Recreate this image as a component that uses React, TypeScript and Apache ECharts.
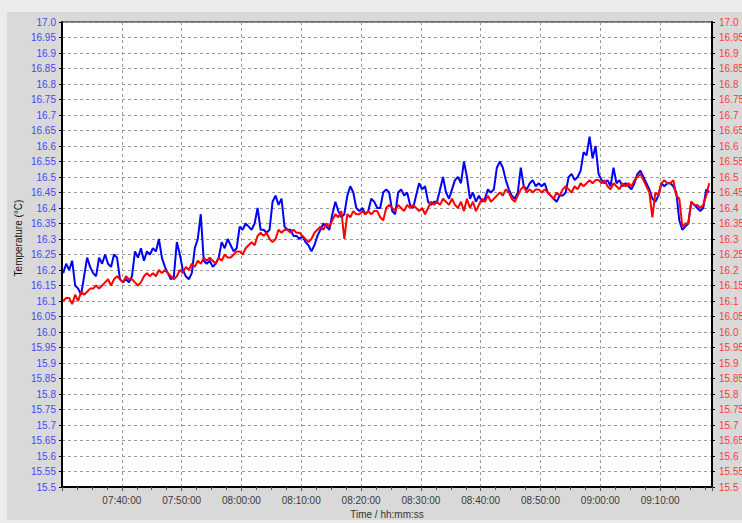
import React, { useEffect, useRef } from "react";
import * as echarts from "echarts";

// Sampling: one reading every 30 s starting at 07:30:12
const startTime = "07:30:12";
const sampleStepSeconds = 30;

// Blue sensor (left axis colour)
const blueValues = [
  16.19, 16.22, 16.2, 16.23, 16.15, 16.14, 16.12, 16.18, 16.24, 16.21,
  16.19, 16.18, 16.24, 16.22, 16.25, 16.22, 16.21, 16.25, 16.24, 16.17,
  16.16, 16.17, 16.16, 16.18, 16.26, 16.24, 16.27, 16.23, 16.26, 16.25,
  16.27, 16.26, 16.3, 16.24, 16.21, 16.19, 16.17, 16.18, 16.29, 16.25,
  16.2, 16.18, 16.17, 16.19, 16.27, 16.3, 16.38, 16.23, 16.22, 16.23,
  16.21, 16.22, 16.24, 16.29, 16.27, 16.3, 16.28, 16.26, 16.27, 16.34,
  16.33, 16.35, 16.34, 16.33, 16.35, 16.4, 16.33, 16.33, 16.32, 16.33,
  16.42, 16.44, 16.41, 16.43, 16.34, 16.33, 16.33, 16.31, 16.31, 16.3,
  16.31, 16.29, 16.28, 16.26, 16.28, 16.31, 16.33, 16.35, 16.34, 16.33,
  16.38, 16.42, 16.39, 16.37, 16.38, 16.44, 16.47, 16.45, 16.4, 16.39,
  16.4, 16.38, 16.39, 16.43, 16.42, 16.4, 16.4, 16.45, 16.46, 16.45,
  16.39, 16.38, 16.45, 16.46, 16.44, 16.45, 16.41, 16.4, 16.44, 16.48,
  16.46, 16.47, 16.42, 16.41, 16.42, 16.42, 16.46, 16.5, 16.45, 16.43,
  16.46, 16.49, 16.5, 16.48, 16.55, 16.5, 16.43, 16.45, 16.42, 16.44,
  16.42, 16.43, 16.46, 16.45, 16.46, 16.53, 16.55, 16.53, 16.49, 16.46,
  16.44, 16.43, 16.45, 16.53, 16.47, 16.46, 16.48, 16.49, 16.47, 16.48,
  16.47, 16.48, 16.45, 16.44, 16.43, 16.42, 16.44, 16.44, 16.45, 16.5,
  16.51, 16.49, 16.5, 16.52, 16.58, 16.57, 16.63, 16.56, 16.6, 16.51,
  16.49, 16.48, 16.49, 16.47, 16.53, 16.48, 16.49, 16.47, 16.48, 16.47,
  16.46, 16.48, 16.51, 16.52, 16.5, 16.48, 16.46, 16.43, 16.42, 16.44,
  16.48, 16.47, 16.48, 16.48, 16.47, 16.45, 16.36, 16.33, 16.34, 16.35,
  16.42, 16.41, 16.4, 16.39, 16.4, 16.46, 16.45,
];

// Red sensor (right axis colour)
const redValues = [
  16.1, 16.11, 16.11, 16.09, 16.12, 16.1, 16.13, 16.12, 16.13, 16.14,
  16.14, 16.15, 16.14, 16.15, 16.16, 16.17, 16.15, 16.17, 16.18, 16.17,
  16.16, 16.18, 16.17, 16.17, 16.16, 16.15, 16.16, 16.18, 16.19, 16.18,
  16.19, 16.18, 16.2, 16.19, 16.2, 16.19, 16.18, 16.17, 16.18, 16.2,
  16.19, 16.21, 16.2, 16.22, 16.21, 16.23, 16.22, 16.24, 16.23, 16.24,
  16.23, 16.22, 16.24, 16.23, 16.25, 16.24, 16.24, 16.25, 16.26, 16.26,
  16.25, 16.27, 16.28, 16.29, 16.28, 16.31, 16.32, 16.31, 16.32, 16.3,
  16.29, 16.3, 16.33, 16.32, 16.33, 16.33, 16.32, 16.33, 16.32, 16.32,
  16.31, 16.3, 16.29, 16.3, 16.32, 16.33, 16.34, 16.33, 16.35, 16.34,
  16.36, 16.38, 16.37, 16.39, 16.3, 16.38, 16.37, 16.39, 16.38, 16.38,
  16.39, 16.38, 16.39, 16.38, 16.39, 16.39, 16.37, 16.36, 16.4, 16.41,
  16.4, 16.39, 16.41, 16.4, 16.39, 16.41, 16.4, 16.41, 16.4, 16.39,
  16.4, 16.38, 16.4, 16.42, 16.41, 16.42, 16.41, 16.43, 16.42, 16.41,
  16.43, 16.41, 16.4, 16.42, 16.39, 16.43, 16.4, 16.42, 16.39, 16.41,
  16.43, 16.42, 16.44, 16.42, 16.43, 16.44, 16.45, 16.44, 16.46, 16.45,
  16.43, 16.42, 16.44, 16.46, 16.47, 16.45, 16.46, 16.45, 16.46, 16.46,
  16.45, 16.46, 16.45, 16.44, 16.43, 16.45, 16.44, 16.46, 16.47, 16.46,
  16.45, 16.47, 16.46, 16.48, 16.47, 16.48, 16.49, 16.48, 16.49, 16.49,
  16.48, 16.49, 16.47, 16.46, 16.48, 16.47, 16.46, 16.48, 16.47, 16.48,
  16.47, 16.49, 16.5, 16.51, 16.49, 16.47, 16.45, 16.37, 16.45, 16.44,
  16.48, 16.49, 16.48, 16.48, 16.49, 16.44, 16.43, 16.34, 16.35, 16.35,
  16.42, 16.41, 16.41, 16.4, 16.41, 16.44, 16.48,
];

const axisStart = "07:30:00";
const axisEnd = "09:18:40";
const tempMin = 15.5;
const tempMax = 17.0;
const tempStep = 0.05;

const xAxisTitle = "Time / hh:mm:ss";
const yAxisTitle = "Temperature (°C)";

function toSec(hms: string): number {
  const [h, m, s] = hms.split(":").map(Number);
  return h * 3600 + m * 60 + s;
}
function fmtTime(sec: number): string {
  const h = Math.floor(sec / 3600);
  const m = Math.floor((sec % 3600) / 60);
  const s = Math.round(sec % 60);
  const p = (n: number) => String(n).padStart(2, "0");
  return `${p(h)}:${p(m)}:${p(s)}`;
}
function fmtTemp(v: number): string {
  let s = v.toFixed(2);
  if (s.endsWith("0")) s = s.slice(0, -1);
  return s;
}

const FONT = "'Liberation Sans', Arial, sans-serif";

export default function App() {
  const ref = useRef<HTMLDivElement>(null);
  useEffect(() => {
    if (!ref.current) return;
    const chart = echarts.init(ref.current, null, { renderer: "svg" });
    const t0 = toSec(startTime);
    const blueData = blueValues.map((v, i) => [t0 + i * sampleStepSeconds, v]);
    const redData = redValues.map((v, i) => [t0 + i * sampleStepSeconds, v]);

    const yCommon = {
      type: "value" as const,
      min: tempMin,
      max: tempMax,
      interval: tempStep,
      axisTick: { show: true, length: 3, inside: false, lineStyle: { color: "#000" } },
    };

    chart.setOption({
      animation: false,
      grid: {
        left: 62,
        top: 22,
        width: 650,
        height: 465,
        show: true,
        backgroundColor: "#ffffff",
        borderColor: "#000",
        borderWidth: 1,
        containLabel: false,
        outerBoundsMode: "none",
      },
      graphic: [
        {
          type: "text",
          x: 18,
          y: 238,
          rotation: Math.PI / 2,
          style: {
            text: yAxisTitle,
            fill: "#111",
            font: `10px ${FONT}`,
            align: "center",
            verticalAlign: "middle",
          },
        },
      ],
      xAxis: {
        type: "value",
        min: toSec(axisStart),
        max: toSec(axisEnd),
        interval: 600,
        name: xAxisTitle,
        nameLocation: "middle",
        nameGap: 22,
        nameTextStyle: { color: "#333", fontSize: 10, fontFamily: FONT },
        axisLine: { show: true, onZero: false, lineStyle: { color: "#000", width: 2 } },
        axisTick: { show: true, length: 4, lineStyle: { color: "#555" } },
        minorTick: { show: true, splitNumber: 4, length: 3, lineStyle: { color: "#555" } },
        axisLabel: {
          color: "#3a3a3a",
          fontSize: 10,
          fontFamily: FONT,
          margin: 8,
          showMinLabel: false,
          showMaxLabel: false,
          formatter: (v: number) => (v % 600 === 0 && v > toSec(axisStart) ? fmtTime(v) : ""),
        },
        splitLine: { show: true, lineStyle: { color: "#9a9a9a", type: [3, 3], width: 1 } },
      },
      yAxis: [
        {
          ...yCommon,
          position: "left",
          axisLine: { show: true, lineStyle: { color: "#000", width: 2 } },
          axisLabel: {
            color: "#4646ff",
            fontSize: 10,
            fontFamily: FONT,
            margin: 6,
            formatter: (v: number) => fmtTemp(v),
          },
          splitLine: { show: true, lineStyle: { color: "#9a9a9a", type: [3, 3], width: 1 } },
        },
        {
          ...yCommon,
          position: "right",
          axisLine: { show: true, lineStyle: { color: "#000", width: 2 } },
          axisLabel: {
            color: "#ff3a3a",
            fontSize: 10,
            fontFamily: FONT,
            margin: 7,
            formatter: (v: number) => fmtTemp(v),
          },
          splitLine: { show: false },
        },
      ],
      series: [
        {
          type: "line",
          yAxisIndex: 0,
          data: blueData,
          showSymbol: false,
          symbol: "none",
          lineStyle: { color: "#0000ff", width: 2 },
          z: 3,
        },
        {
          type: "line",
          yAxisIndex: 0,
          data: redData,
          showSymbol: false,
          symbol: "none",
          lineStyle: { color: "#ff0000", width: 2 },
          z: 4,
        },
      ],
    });
    return () => chart.dispose();
  }, []);

  return (
    <div
      style={{
        position: "absolute",
        left: 0,
        top: 0,
        width: 742,
        height: 523,
        background: "#ececec",
        overflow: "hidden",
      }}
    >
      <div
        style={{
          position: "absolute",
          left: 7,
          top: 12,
          width: 735,
          height: 508,
          background: "#d9d9d9",
        }}
      />
      <div ref={ref} style={{ position: "absolute", left: 0, top: 0, width: 742, height: 523 }} />
    </div>
  );
}
